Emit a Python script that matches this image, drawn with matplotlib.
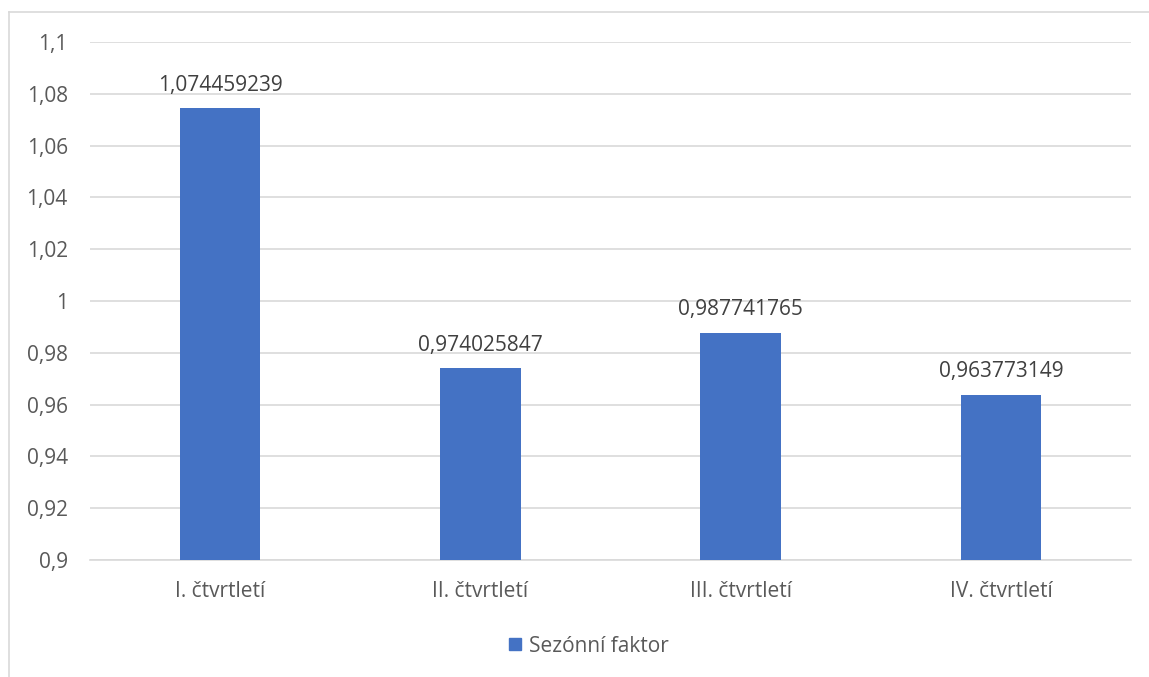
import matplotlib
matplotlib.use('Agg')
import matplotlib.pyplot as plt
from matplotlib.patches import Rectangle
from matplotlib.lines import Line2D

# data
categories = ['I. čtvrtletí', 'II. čtvrtletí', 'III. čtvrtletí', 'IV. čtvrtletí']
values = [1.074459239, 0.974025847, 0.987741765, 0.963773149]
value_labels = ['1,074459239', '0,974025847', '0,987741765', '0,963773149']
yticks = [0.9, 0.92, 0.94, 0.96, 0.98, 1.0, 1.02, 1.04, 1.06, 1.08, 1.1]
ytick_labels = ['0,9', '0,92', '0,94', '0,96', '0,98', '1', '1,02', '1,04', '1,06', '1,08', '1,1']
series_name = 'Sezónní faktor'

plt.rcParams['font.family'] = ['Open Sans', 'DejaVu Sans']

W, H = 1149, 677
fig = plt.figure(figsize=(W / 100, H / 100), dpi=100)
ax = fig.add_axes([90 / W, 1 - 560 / H, (1131 - 90) / W, (560 - 42) / H])

# chart border (only left and top visible in the crop)
fig.add_artist(Line2D([9 / W, 9 / W], [0, 1 - 12 / H], color='#D9D9D9', lw=1.2))
fig.add_artist(Line2D([9 / W, 1], [1 - 12 / H, 1 - 12 / H], color='#D9D9D9', lw=1.2))

bars = ax.bar(range(len(categories)), values, width=0.31, color='#4472C4', zorder=3)

fs = 15
for i, (v, lab) in enumerate(zip(values, value_labels)):
    ax.annotate(lab, (i, v), xytext=(0, 9), textcoords='offset points',
                ha='center', va='bottom', fontsize=fs, color='#404040')

ax.set_ylim(0.9, 1.1)
ax.set_xlim(-0.5, 3.5)
ax.set_yticks(yticks)
ax.set_yticklabels(ytick_labels)
ax.set_xticks(range(len(categories)))
ax.set_xticklabels(categories)
ax.tick_params(axis='both', length=0, labelsize=fs, labelcolor='#595959')
ax.tick_params(axis='y', pad=16)
ax.tick_params(axis='x', pad=15)
ax.grid(axis='y', color='#D9D9D9', lw=1.2, zorder=0)
for s in ['top', 'right', 'left']:
    ax.spines[s].set_visible(False)
ax.spines['bottom'].set_color('#D9D9D9')
ax.spines['bottom'].set_linewidth(1.2)

fig.legend([Rectangle((0, 0), 1, 1, color='#4472C4')], [series_name],
           loc='center', bbox_to_anchor=(589 / W, 1 - 646 / H), frameon=False,
           fontsize=fs, labelcolor='#595959', handlelength=0.55, handleheight=0.55,
           handletextpad=0.4)

fig.savefig('out.png', dpi=100)
